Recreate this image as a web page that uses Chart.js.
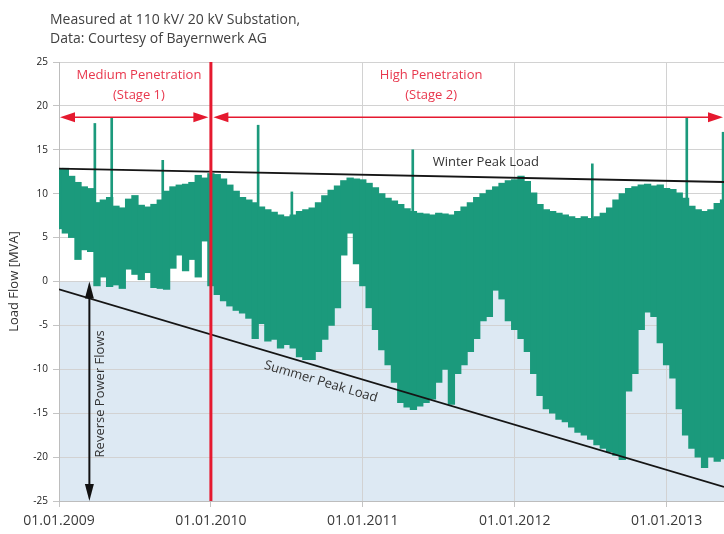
<!DOCTYPE html>
<html>
<head>
<meta charset="utf-8">
<script src="https://cdn.jsdelivr.net/npm/chart.js@4.4.1/dist/chart.umd.min.js"></script>
<style>
  html, body { margin: 0; padding: 0; background: #fff; }
  #wrap { width: 724px; height: 534px; }
</style>
</head>
<body>
<div id="wrap"><canvas id="chart" width="724" height="534"></canvas></div>
<script>
// Load flow at the 110 kV / 20 kV substation, half-monthly max / min envelope [MVA]
const tickYears = [2009, 2010, 2011, 2012, 2013];
const tickLabels = ['01.01.2009', '01.01.2010', '01.01.2011', '01.01.2012', '01.01.2013'];
const samplesPerYear = 24;

const maxLoad2009 = [12.8, 12.9, 12.0, 11.3, 10.8, 10.6, 9.0, 9.3, 9.6, 8.6, 8.4, 9.4, 9.8, 8.7, 8.5, 8.8, 9.3, 10.3, 10.8, 11.0, 11.1, 11.3, 12.1, 11.8];
const minLoad2009 = [6.0, 5.5, 5.0, 2.5, 3.6, 3.4, -0.5, 0.5, -0.6, -0.4, -0.8, 1.4, 0.8, 0.2, 1.0, -0.7, -0.8, -0.9, 1.5, 3.0, 1.2, 2.5, 0.5, 4.6];
const maxLoad2010 = [12.3, 12.2, 11.7, 11.0, 10.3, 9.6, 9.3, 9.0, 8.5, 8.2, 7.9, 7.6, 7.4, 7.6, 8.0, 8.2, 8.4, 9.0, 9.8, 10.4, 10.9, 11.5, 11.8, 11.7];
const minLoad2010 = [-0.5, -1.5, -2.2, -2.8, -3.3, -3.6, -4.2, -6.5, -4.8, -6.8, -6.6, -7.6, -7.2, -7.6, -8.6, -8.9, -8.9, -8.0, -6.6, -5.0, -3.0, 3.0, 5.5, 2.0];
const maxLoad2011 = [11.6, 11.2, 10.7, 10.0, 9.5, 9.2, 8.8, 8.3, 8.0, 7.8, 7.7, 7.6, 7.8, 7.7, 7.6, 8.0, 8.5, 9.0, 9.6, 10.0, 10.4, 10.8, 11.2, 11.5];
const minLoad2011 = [-0.5, -3.0, -5.5, -7.8, -9.5, -11.5, -13.8, -14.3, -14.6, -14.2, -13.8, -13.4, -11.5, -10.0, -14.0, -10.5, -9.5, -8.0, -6.5, -4.5, -4.0, -1.0, -2.0, -4.5];
const maxLoad2012 = [11.6, 12.0, 11.4, 10.1, 8.8, 8.2, 8.0, 7.8, 7.6, 7.4, 7.2, 7.4, 7.2, 7.4, 7.8, 8.4, 9.3, 10.0, 10.6, 10.8, 11.0, 11.1, 10.9, 11.0];
const minLoad2012 = [-5.5, -6.5, -8.0, -10.5, -13.0, -14.5, -15.0, -15.7, -16.0, -16.6, -17.2, -17.5, -18.0, -18.6, -19.0, -19.4, -19.8, -20.3, -12.5, -10.5, -5.5, -3.5, -4.0, -7.0];
const maxLoad2013 = [10.6, 10.5, 10.1, 9.5, 8.6, 8.2, 8.0, 8.2, 8.9, 9.3];
const minLoad2013 = [-9.5, -11.0, -14.5, -17.5, -19.0, -20.0, -21.2, -20.0, -20.5, -20.2];

// single short load peaks above the envelope
const spikeDates = [2009.236, 2009.347, 2009.683, 2010.311, 2010.533, 2011.329, 2012.511, 2013.133, 2013.372];
const spikePeaks = [18.0, 18.7, 13.8, 17.8, 10.2, 15.0, 13.4, 18.6, 17.0];
const spikeBase = 5;

// trend lines
const trendDates = [2009.0, 2013.378];
const winterPeakLoad = [12.86, 11.33];
const summerPeakLoad = [-0.9, -23.4];

const stageChange = 2010.0;
const xEnd = 2013.378;
const stageArrowLevel = 18.7;

const GREEN = '#1b9a7c';
const RED = '#e5192f';
const RED_TEXT = '#e8374d';

const maxByYear = [maxLoad2009, maxLoad2010, maxLoad2011, maxLoad2012, maxLoad2013];
const minByYear = [minLoad2009, minLoad2010, minLoad2011, minLoad2012, minLoad2013];

const bodyBars = [];
tickYears.forEach(function(yr, j) {
  maxByYear[j].forEach(function(hi, k) {
    bodyBars.push({ x: yr + k / samplesPerYear, y: [minByYear[j][k], hi] });
  });
});
const spikeBars = spikeDates.map(function(d, i) { return { x: d, y: [spikeBase, spikePeaks[i]] }; });
const winterPoints = trendDates.map(function(d, i) { return { x: d, y: winterPeakLoad[i] }; });
const summerPoints = trendDates.map(function(d, i) { return { x: d, y: summerPeakLoad[i] }; });

function arrowHead(ctx, tipX, tipY, dx, dy, len, half) {
  // dx, dy: unit direction the arrow points to
  const bx = tipX - dx * len, by = tipY - dy * len;
  ctx.beginPath();
  ctx.moveTo(tipX, tipY);
  ctx.lineTo(bx - dy * half, by + dx * half);
  ctx.lineTo(bx + dy * half, by - dx * half);
  ctx.closePath();
  ctx.fill();
}

function doubleArrow(ctx, x1, y1, x2, y2, len, half, width) {
  const L = Math.hypot(x2 - x1, y2 - y1);
  const dx = (x2 - x1) / L, dy = (y2 - y1) / L;
  ctx.lineWidth = width;
  ctx.beginPath();
  ctx.moveTo(x1 + dx * len * 0.8, y1 + dy * len * 0.8);
  ctx.lineTo(x2 - dx * len * 0.8, y2 - dy * len * 0.8);
  ctx.stroke();
  arrowHead(ctx, x1, y1, -dx, -dy, len, half);
  arrowHead(ctx, x2, y2, dx, dy, len, half);
}

const overlay = {
  id: 'overlay',
  beforeDraw(chart) {
    const { ctx, chartArea: a, scales: { y } } = chart;
    const y0 = y.getPixelForValue(0);
    ctx.save();
    ctx.fillStyle = '#dde9f3';
    ctx.fillRect(a.left, y0, a.right - a.left, a.bottom - y0);
    ctx.restore();
  },
  afterDatasetsDraw(chart) {
    const { ctx, chartArea: a, scales: { x, y } } = chart;
    ctx.save();

    // stage boundary
    const xr = x.getPixelForValue(stageChange);
    ctx.strokeStyle = RED;
    ctx.lineWidth = 3;
    ctx.beginPath();
    ctx.moveTo(xr, a.top);
    ctx.lineTo(xr, a.bottom);
    ctx.stroke();

    // stage arrows
    const ya = y.getPixelForValue(stageArrowLevel);
    ctx.strokeStyle = RED;
    ctx.fillStyle = RED;
    doubleArrow(ctx, a.left + 1, ya, xr - 2.5, ya, 15, 5, 1.5);
    doubleArrow(ctx, xr + 2.5, ya, a.right - 1, ya, 15, 5, 1.5);

    // stage labels
    ctx.fillStyle = RED_TEXT;
    ctx.font = '13px "Open Sans"';
    ctx.textAlign = 'center';
    ctx.textBaseline = 'middle';
    const x1 = (a.left + xr) / 2 + 4;
    ctx.fillText('Medium Penetration', x1, y.getPixelForValue(23.5));
    ctx.fillText('(Stage 1)', x1, y.getPixelForValue(21.2));
    const x2 = x.getPixelForValue(2011.45);
    ctx.fillText('High Penetration', x2, y.getPixelForValue(23.5));
    ctx.fillText('(Stage 2)', x2, y.getPixelForValue(21.2));

    // winter peak label
    ctx.fillStyle = '#333';
    ctx.fillText('Winter Peak Load', x.getPixelForValue(2011.81), y.getPixelForValue(13.6));

    // summer peak label, along the line
    const p1x = x.getPixelForValue(trendDates[0]), p1y = y.getPixelForValue(summerPeakLoad[0]);
    const p2x = x.getPixelForValue(trendDates[1]), p2y = y.getPixelForValue(summerPeakLoad[1]);
    const ang = Math.atan2(p2y - p1y, p2x - p1x);
    const tx = x.getPixelForValue(2010.75);
    const ty = p1y + (tx - p1x) * (p2y - p1y) / (p2x - p1x);
    ctx.save();
    ctx.translate(tx, ty);
    ctx.rotate(ang);
    ctx.fillText('Summer Peak Load', 0, 14);
    ctx.restore();

    // reverse power flow arrow
    const xb = x.getPixelForValue(2009.2);
    ctx.strokeStyle = '#111';
    ctx.fillStyle = '#111';
    doubleArrow(ctx, xb, y.getPixelForValue(0), xb, y.getPixelForValue(-25), 17, 4.5, 2);
    ctx.fillStyle = '#333';
    ctx.save();
    ctx.translate(xb + 11, y.getPixelForValue(-12.8));
    ctx.rotate(-Math.PI / 2);
    ctx.fillText('Reverse Power Flows', 0, 0);
    ctx.restore();

    ctx.restore();
  },
  afterDraw(chart) {
    const { ctx, chartArea: a } = chart;
    ctx.save();
    ctx.fillStyle = '#404040';
    ctx.font = '14px "Open Sans"';
    ctx.textAlign = 'left';
    ctx.textBaseline = 'middle';
    ctx.fillText('Measured at 110 kV/ 20 kV Substation,', a.left - 9, 20);
    ctx.fillText('Data: Courtesy of Bayernwerk AG', a.left - 9, 39);
    ctx.restore();
  }
};

Chart.defaults.font.family = '"Open Sans", sans-serif';

new Chart(document.getElementById('chart'), {
  type: 'bar',
  data: {
    datasets: [
      { type: 'line', data: winterPoints, borderColor: '#151515', borderWidth: 1.8, pointRadius: 0, order: 0 },
      { type: 'line', data: summerPoints, borderColor: '#151515', borderWidth: 1.8, pointRadius: 0, order: 0 },
      { type: 'bar', data: bodyBars, backgroundColor: GREEN, borderWidth: 0, barThickness: 'flex',
        barPercentage: 1.05, categoryPercentage: 1, stack: 'load', order: 1 },
      { type: 'bar', data: spikeBars, backgroundColor: GREEN, borderWidth: 0, barThickness: 2,
        stack: 'load', order: 1 }
    ]
  },
  options: {
    responsive: false,
    animation: false,
    events: [],
    layout: { padding: { top: 62, right: 0, bottom: 0, left: 0 } },
    plugins: { legend: { display: false }, tooltip: { enabled: false } },
    scales: {
      x: {
        type: 'linear',
        min: 2009,
        max: xEnd,
        offset: false,
        grid: { color: '#d2d2d2', offset: false, tickLength: 6, tickColor: '#c4c4c4' },
        border: { color: '#bdbdbd' },
        ticks: {
          font: { size: 14 },
          color: '#3a3a3a',
          padding: 6,
          maxRotation: 0,
          autoSkip: false,
          callback: function(v, i) { return tickLabels[i]; }
        },
        afterBuildTicks: function(s) { s.ticks = tickYears.map(function(v) { return { value: v }; }); },
        afterFit: function(s) { s.height = 33; }
      },
      y: {
        min: -25,
        max: 25,
        stacked: false,
        grid: { color: '#d2d2d2', tickLength: 6, tickColor: '#c4c4c4' },
        border: { color: '#bdbdbd' },
        ticks: { stepSize: 5, font: { size: 10 }, color: '#222', padding: 5 },
        title: { display: true, text: 'Load Flow [MVA]', font: { size: 13 }, color: '#333', padding: { top: 6, bottom: 0 } },
        afterFit: function(s) { s.width = 59; }
      }
    }
  },
  plugins: [overlay]
});
</script>
</body>
</html>
